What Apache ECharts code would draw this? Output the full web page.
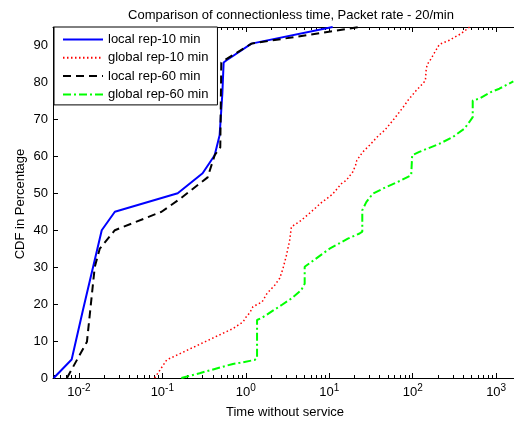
<!DOCTYPE html>
<html>
<head>
<meta charset="utf-8">
<script src="https://cdn.jsdelivr.net/npm/echarts@6/dist/echarts.min.js"></script>
<style>html,body{margin:0;padding:0;background:#fff}#c{width:514px;height:421px}</style>
</head>
<body>
<div id="c"></div>
<script>
const titleText = 'Comparison of connectionless time, Packet rate - 20/min';
const xLabel = 'Time without service';
const yLabel = 'CDF in Percentage';
const seriesNames = ['local rep-10 min', 'global rep-10 min', 'local rep-60 min', 'global rep-60 min'];

const localRep10X = [0.005, 0.0082, 0.0112, 0.0188, 0.027, 0.153, 0.304, 0.424, 0.486, 0.524, 0.543, 0.589, 1.17, 11];
const localRep10Y = [0, 5, 18.4, 40, 45, 50, 55.4, 60.3, 65.7, 77, 85.4, 86, 90.5, 95];

const globalRep10X = [0.081, 0.113, 0.705, 0.93, 1.0, 1.12, 1.22, 1.57, 1.8, 2.22, 2.55, 2.79, 3.07, 3.36, 3.52, 4.04, 4.64, 6.1, 8.0, 10.9, 14, 16, 19.2, 20.7, 21.4, 25.3, 30.4, 39.3, 46, 57.8, 69.5, 79.8, 87.4, 110, 126, 142, 145, 149, 166, 191, 209, 275, 322, 373, 428, 480];
const globalRep10Y = [0, 4.9, 13.4, 15.2, 16.4, 17.7, 19.3, 20.6, 22.9, 25.1, 27, 29.6, 33.2, 37.3, 40.9, 41.8, 42.7, 45, 47.4, 49.7, 52.6, 53.5, 55.8, 57.6, 58.9, 61.2, 63, 65.7, 67, 69.7, 72, 73.8, 75.1, 77.8, 79.2, 80.5, 83.4, 84.8, 86.4, 88.8, 90.3, 91.4, 92.3, 93.1, 94.1, 95];

const localRep60X = [0.0072, 0.0125, 0.0155, 0.0178, 0.027, 0.098, 0.161, 0.349, 0.424, 0.495, 0.509, 0.557, 1.17, 23];
const localRep60Y = [0, 9.8, 30, 35, 40, 45, 48.4, 54.3, 60.3, 62.4, 85.4, 86, 90.5, 95];

const globalRep60X = [0.169, 0.28, 0.70, 0.85, 1.28, 1.365, 1.365, 1.54, 2.67, 3.52, 4.64, 4.84, 5.08, 5.08, 6.1, 10.1, 16.7, 23.1, 24.9, 24.9, 27.8, 33.3, 48.2, 72.8, 96, 98.6, 98.6, 120, 209, 302, 417, 478, 524, 524, 630, 869, 1092, 1607];
const globalRep60Y = [0, 1.3, 3.8, 4.1, 4.9, 5.4, 15.7, 16.2, 19.7, 21.5, 23.8, 24.7, 25.5, 30.1, 31.4, 35, 37.7, 39.1, 39.6, 45.4, 47.6, 49.9, 51.7, 53.5, 54.9, 55.2, 60.3, 61.2, 63.4, 65.2, 67.5, 69.3, 70.6, 75.1, 75.6, 77.4, 78.3, 80.3];

const yTicks = [0, 10, 20, 30, 40, 50, 60, 70, 80, 90];
const xMin = 0.0049, xMax = 1778, yMin = 0, yMax = 95;

function pairs(xs, ys) { return xs.map((x, i) => [x, ys[i]]); }

const FONT = 'Liberation Sans, Arial, Helvetica, sans-serif';
const chart = echarts.init(document.getElementById('c'), null, {renderer: 'canvas'});

function xLabelFmt(v) {
  const l = Math.log10(v);
  const r = Math.round(l);
  if (Math.abs(l - r) > 1e-6) return '';
  return '{b|10}{s|' + r + '}';
}

const option = {
  animation: false,
  backgroundColor: '#fff',
  title: {
    text: titleText,
    left: 286, top: 4, textAlign: 'center',
    textStyle: {fontFamily: FONT, fontSize: 13, fontWeight: 'normal', color: '#000'}
  },
  legend: {
    orient: 'vertical', left: 54, top: 27,
    itemWidth: 40, itemHeight: 14, itemGap: 5.3,
    padding: [6, 9, 4, 8],
    borderColor: '#000', borderWidth: 1, backgroundColor: '#fff',
    itemStyle: {opacity: 0},
    textStyle: {fontFamily: FONT, fontSize: 13, color: '#000'},
    data: seriesNames
  },
  grid: {left: 53, top: 27, width: 464, bottom: 43, containLabel: false, outerBoundsMode: 'none'},
  xAxis: [{
    type: 'log', logBase: 10, min: xMin, max: xMax,
    axisLine: {show: true, lineStyle: {color: '#000', width: 1}},
    axisTick: {show: true, inside: true, length: 5, lineStyle: {color: '#000'}},
    splitLine: {show: false},
    axisLabel: {
      formatter: xLabelFmt, margin: 5, color: '#000',
      rich: {
        b: {fontFamily: FONT, fontSize: 13, color: '#000'},
        s: {fontFamily: FONT, fontSize: 10, color: '#000', padding: [0, 0, 9, 0]}
      }
    }
  }, {
    type: 'log', logBase: 10, min: xMin, max: xMax, position: 'top',
    axisLine: {show: true, lineStyle: {color: '#000', width: 1}},
    axisTick: {show: true, inside: true, length: 5, lineStyle: {color: '#000'}},
    splitLine: {show: false},
    axisLabel: {show: false}
  }],
  yAxis: [{
    type: 'value', min: yMin, max: yMax, interval: 10,
    axisLine: {show: true, lineStyle: {color: '#000', width: 1}},
    axisTick: {show: true, inside: true, length: 5, lineStyle: {color: '#000'}},
    splitLine: {show: false},
    axisLabel: {
      margin: 5, color: '#000', fontFamily: FONT, fontSize: 13,
      formatter: v => (yTicks.indexOf(v) >= 0 ? String(v) : '')
    }
  }],
  series: [
    {name: seriesNames[0], type: 'line', symbol: 'none', data: pairs(localRep10X, localRep10Y),
     lineStyle: {color: '#0000ff', width: 2, type: 'solid'}, itemStyle: {color: '#0000ff'}, z: 4},
    {name: seriesNames[1], type: 'line', symbol: 'none', data: pairs(globalRep10X, globalRep10Y),
     lineStyle: {color: '#ff0000', width: 1.5, type: [1.5, 2.5]}, itemStyle: {color: '#ff0000'}, z: 3},
    {name: seriesNames[2], type: 'line', symbol: 'none', data: pairs(localRep60X, localRep60Y),
     lineStyle: {color: '#000000', width: 2, type: [8, 5]}, itemStyle: {color: '#000000'}, z: 5},
    {name: seriesNames[3], type: 'line', symbol: 'none', data: pairs(globalRep60X, globalRep60Y),
     lineStyle: {color: '#00ff00', width: 2, type: [8, 3, 2, 3]}, itemStyle: {color: '#00ff00'}, z: 3}
  ]
};
chart.setOption(option);

// minor ticks on log axes + axis titles
const graphics = [];
const yBot = chart.convertToPixel({yAxisIndex: 0}, yMin);
const yTop = chart.convertToPixel({yAxisIndex: 0}, yMax);
for (let e = -3; e <= 3; e++) {
  for (let k = 2; k <= 9; k++) {
    const v = k * Math.pow(10, e);
    if (v <= xMin || v >= xMax) continue;
    const px = Math.round(chart.convertToPixel({xAxisIndex: 0}, v)) + 0.5;
    graphics.push({type: 'line', shape: {x1: px, y1: yBot, x2: px, y2: yBot - 3}, style: {stroke: '#000', lineWidth: 1}, silent: true});
    graphics.push({type: 'line', shape: {x1: px, y1: yTop, x2: px, y2: yTop + 3}, style: {stroke: '#000', lineWidth: 1}, silent: true});
  }
}
graphics.push({type: 'text', x: 285, y: 412, style: {text: xLabel, font: '13px ' + FONT, fill: '#000', align: 'center', verticalAlign: 'middle'}});
graphics.push({type: 'text', x: 20, y: 204, rotation: Math.PI / 2, style: {text: yLabel, font: '13px ' + FONT, fill: '#000', align: 'center', verticalAlign: 'middle'}});
chart.setOption({graphic: graphics});
</script>
</body>
</html>
